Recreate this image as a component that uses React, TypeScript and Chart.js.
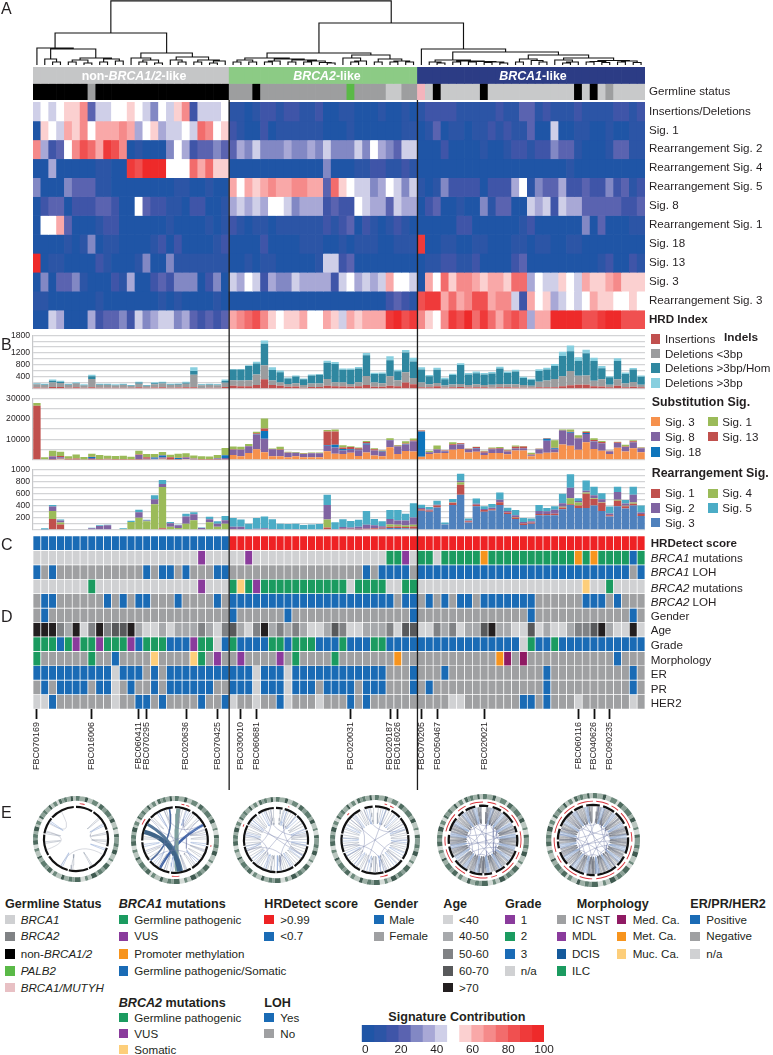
import React, { useEffect, useRef } from "react";
import { Chart, registerables } from "chart.js";
Chart.register(...registerables);

/* ---------- samples ---------- */
const groupSizes = [25, 24, 29];
const labelledSamples: Record<number, string> = {
  0: "FBC070169", 7: "FBC016006", 13: "FBC060411", 14: "FBC070295", 19: "FBC020636", 23: "FBC070425",
  26: "FBC030010", 28: "FBC060681", 40: "FBC020031", 45: "FBC020187", 46: "FBC016026",
  49: "FBC070205", 51: "FBC050467", 57: "FBC020021", 69: "FBC060116", 71: "FBC040626", 73: "FBC090235",
};
const sampleIds = Array.from({ length: 78 }, (_, i) => labelledSamples[i] ?? "");

/* ---------- heat map (level 0..14 of the 15 colour steps) ---------- */
const insDel = [6,7,6,7,8,8,10,3,6,6,7,7,8,7,6,4,7,6,8,10,2,6,6,6,7, 1,1,0,1,2,2,1,2,2,1,1,2,0,0,1,1,0,0,0,1,0,0,1,0, 1,2,2,2,2,1,1,1,1,1,2,1,1,3,3,1,2,1,1,1,2,1,1,1,1,2,2,1,2];
const sig1 = [0,8,7,6,9,8,10,7,9,9,9,10,9,5,7,8,5,6,6,7,6,11,10,7,8, 2,1,0,0,2,0,1,1,1,1,1,1,0,0,0,1,0,0,0,0,0,0,1,1, 0,1,3,0,1,1,0,1,1,2,1,2,1,1,3,0,0,6,0,0,1,1,0,0,1,0,0,1,1];
const rearr2 = [10,5,2,3,7,10,12,11,9,13,12,10,0,1,0,0,0,4,7,5,2,3,3,4,3, 3,5,4,6,4,4,4,5,4,4,5,4,6,4,4,4,6,4,7,5,4,3,6,6, 0,0,0,2,0,0,0,0,1,0,0,1,2,2,1,2,2,4,3,3,1,0,0,0,1,3,3,1,1];
const rearr4 = [0,0,5,0,0,0,0,0,1,1,0,0,13,12,14,14,14,7,7,7,11,9,11,8,8, 0,0,0,0,0,0,0,0,0,0,0,0,4,0,0,0,1,1,2,2,1,1,2,1, 0,0,0,0,0,0,0,0,0,0,0,0,0,0,0,0,0,0,0,1,0,0,0,0,0,0,0,0,0];
const rearr5 = [4,0,0,0,4,3,3,3,1,1,0,0,0,0,0,0,0,0,1,1,0,0,1,0,0, 9,7,9,8,9,10,9,9,10,10,9,9,3,11,8,7,6,6,4,5,7,6,4,6, 1,0,1,4,2,2,2,2,0,2,2,2,5,7,1,4,3,3,5,2,2,3,2,2,4,2,3,1,2];
const sig8 = [0,2,3,3,0,2,2,2,3,3,2,0,0,7,3,2,2,1,1,0,2,2,0,0,1, 5,6,5,6,5,7,7,6,4,5,5,5,2,3,2,2,7,6,5,5,3,6,5,5, 0,2,3,0,0,1,0,0,4,1,3,3,0,0,6,5,6,2,6,5,5,3,3,3,3,3,2,2,3];
const rearr1 = [0,7,7,9,3,0,0,0,1,2,2,0,0,0,0,0,0,1,0,0,0,0,1,0,1, 2,1,0,1,1,0,1,1,1,1,1,1,2,1,2,3,0,2,1,0,1,2,1,0, 0,0,0,0,0,2,2,0,0,0,0,0,0,1,2,0,0,0,0,0,0,4,0,3,0,0,0,1,1];
const sig18 = [0,0,0,0,1,0,1,4,0,1,1,0,0,0,0,1,2,0,2,0,0,0,0,1,2, 0,0,0,0,2,0,0,0,0,1,1,1,0,0,1,0,1,1,1,0,0,1,1,1, 13,0,0,1,1,0,0,1,1,0,0,0,1,1,0,1,1,0,0,1,1,0,0,0,0,0,0,0,0];
const sig13 = [14,0,1,1,0,0,0,0,2,1,0,0,0,1,4,0,0,4,1,1,1,1,1,1,1, 0,0,1,0,1,1,0,0,0,0,0,1,6,6,2,3,0,0,0,0,0,0,0,0, 0,1,1,2,2,1,1,2,0,0,0,0,2,3,0,0,0,0,0,0,0,0,0,1,2,0,0,2,1];
const sig3 = [0,4,0,3,3,4,1,0,0,0,2,1,5,0,0,2,3,2,4,4,4,0,2,4,0, 6,5,7,6,2,5,4,4,6,5,5,5,5,2,6,7,5,6,5,6,9,7,7,6, 0,9,7,11,8,10,10,9,8,9,9,8,11,11,5,7,6,6,8,7,6,9,8,8,9,10,8,8,8];
const rearr3 = [1,1,0,0,0,0,0,0,1,0,0,0,0,0,0,0,1,0,1,0,0,0,0,1,0, 0,0,0,0,0,0,0,0,0,0,0,0,0,0,0,0,0,0,0,0,2,3,2,1, 12,13,13,9,11,9,10,12,12,9,10,10,6,2,9,7,8,5,6,7,6,7,9,8,8,7,7,8,7];
const hrdIndex = [0,0,6,5,0,0,0,5,2,3,3,4,2,6,4,5,6,6,4,5,3,2,3,2,3, 9,10,11,12,10,8,7,8,8,9,7,7,9,8,6,9,8,9,9,9,13,14,12,13, 10,8,7,10,13,12,14,11,13,11,9,11,12,11,5,9,9,14,14,14,14,12,12,13,14,14,12,12,12];
const heatLabels = ["Insertions/Deletions","Sig. 1","Rearrangement Sig. 2","Rearrangement Sig. 4","Rearrangement Sig. 5","Sig. 8","Rearrangement Sig. 1","Sig. 18","Sig. 13","Sig. 3","Rearrangement Sig. 3","HRD Index"];
const heatRows = [insDel,sig1,rearr2,rearr4,rearr5,sig8,rearr1,sig18,sig13,sig3,rearr3,hrdIndex];
const heatPalette = ["#1f55a6","#2c55a6","#3f55a8","#5a63b0","#8288c4","#a8a8d6","#cfcfe8","#ffffff","#fbd0d0","#f9a8a8","#f58a8a","#f26c6c","#f05050","#ef3a3a","#ee2a2a"];

/* ---------- indels ---------- */
const insertions = [45,40,60,60,40,50,40,55,40,40,35,40,35,55,35,45,55,40,45,55,50,30,35,35,60, 106,90,90,127,318,130,100,70,80,40,60,60,106,90,80,70,90,130,70,70,106,90,210,150, 50,55,85,40,55,60,45,50,50,40,50,50,45,35,40,50,50,50,90,120,140,140,90,80,50,100,50,70,55];
const delShort = [110,90,150,135,90,125,70,275,90,90,80,90,60,115,60,110,120,90,95,115,420,90,95,85,145, 180,190,200,350,477,150,110,90,110,90,120,120,220,130,130,90,130,300,140,120,320,200,350,210, 160,95,115,70,90,100,85,105,80,95,110,100,105,90,60,190,230,280,330,480,300,310,180,240,90,220,130,160,80];
const delHom = [15,15,60,40,15,20,15,90,15,15,15,15,15,40,15,35,35,15,20,35,130,15,15,15,60, 362,365,475,370,720,350,350,190,225,195,270,290,547,610,430,480,460,697,290,320,530,300,660,560, 440,270,440,215,320,640,355,370,350,380,520,380,430,240,205,360,370,440,680,660,490,740,660,370,250,610,320,420,270];
const delLong = [20,25,40,35,25,25,25,50,25,25,20,25,20,30,20,30,30,25,20,35,120,25,25,25,45, 20,20,30,64,105,90,55,30,30,25,27,28,70,70,38,38,51,71,40,41,136,46,84,119, 70,46,70,46,43,58,45,58,50,46,62,53,56,38,34,57,60,67,140,192,130,124,109,73,34,98,51,50,40];

/* ---------- substitution signatures ---------- */
const subSig3 = [0,0,100,500,100,100,0,100,100,200,100,100,100,100,200,300,500,100,100,400,200,100,100,100,200, 2400,1700,3300,5200,3700,1800,1800,1300,1700,1200,1300,1300,4200,3000,2900,3400,1900,3600,2100,1800,6100,2900,4300,4000, 1500,2900,3200,3300,4900,5300,3600,3900,2400,3300,3300,2700,4600,4500,1700,3000,3400,3600,7500,6800,4900,8600,5300,4400,2900,5900,4000,5600,3700];
const subSig8 = [0,0,1500,800,200,300,0,800,200,100,200,200,100,2200,300,200,800,200,300,700,300,200,200,500,700, 2500,3200,3300,7000,6500,3300,3000,2200,1700,1700,1900,1900,2700,3000,1600,1500,2800,3800,2400,2000,3400,3500,3200,5000, 0,800,1800,900,2300,2200,1200,1600,1100,1800,2100,1300,800,1100,500,2000,5900,1600,6500,6300,5300,4000,3600,3700,1100,2300,2300,3000,1900];
const subSig18 = [0,0,0,100,0,0,0,500,0,0,0,0,0,0,0,600,800,0,500,0,0,0,0,200,1300, 0,0,0,200,3800,100,0,0,0,0,0,0,300,1300,800,400,200,600,100,300,100,100,200,0, 12300,0,0,100,0,100,100,300,0,0,0,0,100,0,0,100,900,400,200,300,200,500,200,0,100,0,0,0,0];
const subSig13 = [26300,300,300,500,200,200,200,100,100,200,100,100,100,300,700,100,300,900,100,300,100,100,100,100,100, 200,100,100,500,1300,100,200,100,100,100,100,100,6600,6500,700,1000,700,700,500,300,100,400,200,400, 500,100,100,300,400,500,500,500,500,400,400,500,900,900,400,300,300,300,200,300,300,500,500,600,300,400,200,400,300];
const subSig1 = [1400,1000,2500,2000,1300,2000,1200,1500,2000,1500,1500,1600,1200,1800,1700,1700,1400,1300,2000,1800,1500,1400,1200,1400,3500, 1400,1400,1000,800,4800,200,1400,300,300,300,300,300,700,1000,1100,300,400,500,500,300,800,300,1200,1000, 100,600,1900,100,900,100,100,100,400,500,400,400,600,200,800,100,100,3600,400,1000,1300,300,900,500,100,200,800,500,200];

/* ---------- rearrangement signatures ---------- */
const rSig3 = [0,0,0,0,0,0,0,0,0,0,0,0,0,0,0,0,0,0,0,0,0,0,0,0,0, 0,0,0,0,0,0,0,0,0,0,0,0,0,0,0,0,5,0,10,20,30,30,25,20, 315,300,370,85,410,580,120,390,300,320,410,260,180,80,100,240,240,240,340,410,360,360,400,310,220,390,350,400,230];
const rSig1 = [0,0,180,90,0,0,0,0,0,0,0,0,0,0,0,0,25,0,0,0,0,0,0,0,0, 15,10,0,0,0,0,0,0,0,0,0,0,40,0,20,20,15,20,15,15,20,25,20,35, 25,20,30,0,35,165,20,25,25,20,45,25,25,25,20,20,20,25,30,10,40,235,110,135,20,90,40,30,30];
const rSig4 = [0,0,130,30,0,0,0,0,0,0,0,15,130,200,140,420,680,50,30,100,160,0,125,50,100, 0,0,0,0,0,0,0,0,0,0,0,0,130,0,0,0,0,0,0,0,40,30,25,30, 0,0,0,0,5,40,0,0,0,0,0,0,5,0,0,0,0,0,10,100,50,20,10,10,0,15,5,20,0];
const rSig2 = [0,5,75,35,0,0,0,25,65,75,0,0,0,90,15,85,50,60,45,120,95,30,50,50,60, 35,40,15,20,25,15,15,10,15,10,10,10,240,15,25,20,30,65,50,25,90,70,85,120, 20,15,15,5,5,25,15,15,20,25,40,25,30,25,20,50,45,65,60,175,25,30,50,50,30,130,40,130,25];
const rSig5 = [0,20,25,15,0,0,0,10,10,10,0,10,20,40,10,65,65,20,10,45,35,10,40,40,70, 145,120,85,175,195,160,85,85,85,70,80,85,170,110,130,105,115,225,105,80,145,170,110,235, 55,40,65,30,55,115,30,85,45,60,120,55,85,65,45,100,55,60,155,220,45,170,140,100,115,85,55,130,115];

/* ---------- annotation tracks ---------- */
const codes = (s: string) => s.replace(/ /g, "").split("");
const germline = codes("kkkkk kkdkk kkkkk kkkkk kkkkk dddkd ddddd ddddd sdddd aadd takaa aaaka aaaaa aaaaa kakad aaaa");
const hrdetect = codes("bbbbb bbbbb bbbbb bbbbb bbbbb rrrrr rrrrr rrrrr rrrrr rrrr rrrrr rrrrr rrrrr rrrrr rrrrr rrrr");
const brca1Mut = codes("lllll lllll lllll lllll lplll llpll lllll lllll lllll GGpl GGlGG GGGoG GGGGG GGGGG oGoGG GGbG");
const brca1Loh = codes("bgbgg ggggg ggggb gbbgb gggbb ggggg ggggg ggggg ggbgb bbbg bbbbb bbbbb bbbbb bbbbb bbbbb bbgb");
const brca2Mut = codes("lllll llGll lllll lllll lplll GyGpG GGGGG GGGGG lGGGG llGG lllll lllll lllll lllll lyllG llll");
const brca2Loh = codes("gbbgg ggggb gbgbb gggbg gggbg bbbbb bbbbb bbbbb bbbbb bgbb gbgbg bbgbb bbbbb ggggg gbbbg bggg");
const gender = codes("gbggg ggggg ggggg ggggg ggggg bgggg ggbgg ggggg ggggg gggb ggggg ggggg ggggb ggggg ggggg ggbg");
const age = codes("44421 40242 33410 01011 12102 31024 12121 00132 00111 2033 00212 01134 11003 01001 22341 0040");
const grade = codes("GGGbG pGGpG GGpbG GGbbb pGGlb Gbbbb GGbGG GbbbG bbbGG bbbb bbbbb bbbbb bbblG bbGbb bbbbb bbbb");
const morphology = codes("Ggggg ggGgg bgggg ygggg yGgpg gpggg gpgGg gggGg ggggg gogg ggggg ggggg omgmg ggggg ggggg bggg");
const er = codes("bbbbb bbbbb lbbbg bgbbb bbbbb bbblb bblbb bbbbb bbbbb gggb gggbg ggggg ggggg gbggg ggggg ggbg");
const pr = codes("gbgbb bbgbb lgbgg bgbbb bbbgg bbblb bblbb bgbbb bgbbb gggb gbggg ggggg ggggg gbggg ggggg ggbg");
const her2 = codes("llbgg ggggg lggbb gbggg gbggb lgglg gblgg glggg bgbgg gggg ggggl lgggg gggbb gbggg lgggg gglg");
const annotationRows = [hrdetect,brca1Mut,brca1Loh,brca2Mut,brca2Loh,gender,age,grade,morphology,er,pr,her2];
const trackColors: Record<string,string> = {
  b:"#1a6bb5", g:"#9fa0a2", l:"#d0d1d3", G:"#1b9b60", p:"#8a3b9c", o:"#f7941d", y:"#fdce7a", m:"#8f1a63", r:"#ee2224",
  "0":"#d2d3d5","1":"#a7a9ac","2":"#808285","3":"#58595b","4":"#231f20",
  k:"#000000", d:"#9d9e9f", a:"#c8c9ca", s:"#5ab947", t:"#f4b4bc",
};
const groupColors = ["#c5c6c7","#8ccb85","#2c3c85"];

/* ---------- dendrogram: [height, left, right], 0 is a leaf, leaves taken in sample order ---------- */
type Node = 0 | [number, Node, Node];
const nonBrcaTree: Node = [32,
  [17, 0, [16, [6,0,[3,0,0]], [7,[5,[3,0,0],[2,0,0]],[6,[3,0,0],[4,0,0]]]]],
  [12, [7,0,[5,[3,0,0],[2,0,0]]], [8,[5,0,[3,0,0]],[5,[3,0,0],[4,[2,0,0],0]]]]];
const brca2Tree: Node = [12,
  [7, [5,[3,0,0],[3,0,0]], [6,[4,[3,0,0],0],[5,[3,0,0],[4,[3,0,0],[2.5,0,[2,0,0]]]]]],
  [10, [7,0,[4,[3,0,0],0]], [6,[3,0,0],[4,[3,0,0],[3,0,0]]]]];
const brca1Tree: Node = [16, 0, [13,
  [5,[3,0,[2,0,0]],[4,[3,0,0],[3.5,[3,0,0],[3,[2.5,0,0],[2,0,0]]]]],
  [10,[6,[3,0,0],[4.5,0,[3,0,0]]],[7,[5,0,[3,[2,0,0],0]],[4.5,[3.5,[3,0,0],[2.5,0,0]],[4,[3,0,0],[2.5,0,0]]]]]]];
const rootTree: Node = [65, nonBrcaTree, [42, brca2Tree, brca1Tree]];

/* ---------- circos panels: angles in degrees clockwise from the top ---------- */
const ideogramBands = [5,7,4,6,8,3,6,5,9,4,5,7,3,6,4,8,5,4,6,7,3,5,8,4,6,3,7,5,4,6,8,3,5,6,4,7,5,3,6,4,8,5,3,7,4,5,6,3,5,4,6,3,5,4,3,5,4,6,3,4,5,3,4,3,4,5,3,4];
const ideogramColors = ["#5f7d70","#9db0a6","#3f5a50","#b9c6bf","#6e8a7d","#d5dcd8","#4d6a5e","#8aa096"];
/* arcs: on, off, on, off ... */
const blackRings = [
  [30,3,40,2,28,3,50,2,35,2,42,3,38,2,30,2,44,4],
  [28,4,36,2,30,2,48,3,36,3,40,3,34,3,42,2,44,4],
  [12,4,24,2,30,2,26,3,44,3,32,2,46,2,30,2,38,2,24,4,30,4],
  [26,3,18,2,30,2,42,3,36,2,38,3,40,2,30,2,52,8,14,4],
  [8,7,14,4,22,6,10,4,18,7,26,4,16,6,12,3,20,4,24,6,18,4,14,6,22,5,10,4,16,6,6],
  [10,5,18,3,20,4,14,3,24,5,16,3,30,4,12,4,24,5,20,6,10,3,16,4,28,3,14,5,10],
];
/* arcs: off, on, off, on ... */
const redRings = [
  [6,8,346],
  [10,5,3,5,75,3,72,12,110,10,55],
  [20,2,270,4,64],
  [15,4,5,6,130,12,140,4,44],
  [6,12,5,14,6,18,7,22,6,10,6,20,8,8,5,24,7,16,6,20,5,12,7,26,6,12,6,18],
  [4,16,4,10,5,22,5,12,5,18,4,14,5,24,5,16,4,20,5,10,5,18,6,22,5,16,4,20],
];
const circosSpokes = [
  [47,62,78,92,108,148,186,206,262,280,302],
  [10,22,34,46,60,72,84,97,108,120,131,143,158,184,196,208,220,232,243,258,272,312,326,340],
  [9,16,24,34,41,52,58,69,77,84,95,102,113,121,128,139,147,156,165,172,184,191,199,210,218,227,233,244,253,259,270,278,286,297,305,314,321,332,341,350],
  [6,15,21,32,39,47,56,66,72,81,90,98,107,114,124,131,138,149,158,164,175,183,190,201,209,216,226,235,241,250,259,268,274,285,293,300,310,317,327,335,344,352],
  [6,13,19,27,35,42,48,57,64,70,79,86,93,101,108,114,123,130,137,144,152,158,167,174,181,188,196,203,211,218,224,233,240,247,255,262,269,276,284,291,298,306,313,320,328,335,342,350],
  [7,14,21,28,36,44,50,58,66,73,80,87,94,102,110,116,124,131,139,146,153,160,168,175,182,190,198,204,212,219,226,234,241,248,256,264,270,278,285,292,299,307,315,322,329,337,345,352],
];
const spokeWidths = [3, 4, 5, 5, 7, 7];
const circosChords = [
  [[120,210],[250,285],[300,332],[60,100]],
  [[30,200],[70,250],[110,300],[160,330],[50,140],[215,310],[130,230],[20,80],[340,60]],
  [[40,220],[120,310],[300,100],[70,170],[200,280],[340,80],[150,250],[20,120],[250,350]],
  [[60,240],[130,310],[200,20],[90,170],[220,320],[340,70],[160,260]],
  [[30,130],[70,200],[110,230],[150,290],[190,330],[240,20],[280,60],[320,90],[10,170],[50,150],[100,260],[140,340],[210,300],[250,80],[15,75],[85,145],[155,215],[225,285],[295,355],[45,105],[120,180],[195,255],[265,325],[335,35]],
  [[20,120],[60,190],[100,220],[140,280],[180,320],[230,10],[270,50],[310,80],[350,160],[40,140],[90,250],[130,330],[200,290],[240,70],[10,70],[80,140],[150,210],[220,280],[290,350],[35,95],[110,170],[185,245],[255,315],[325,25]],
];
const circosRibbons = [[], [[285,172,4.5,"#3f6488"],[300,168,3,"#56799a"],[6,176,4,"#7fa09e"],[62,208,2.5,"#3f63a8"],[350,230,1.6,"#4a6aa0"]], [], [], [], []];
const circosBoxes = [[76,839,43],[175,840,44],[276,840,43],[375,840,45],[483,840,46],[593,840,47]];

/* ---------- legends ---------- */
const colorbarSteps = [-2,4.8,11.6,18.4,25.2,32,38.8,45.6,52.4,59.2,66,72.8,79.6,86.4,93.2,100];
const colorbarTicks = [0,20,40,60,80,100];
const barLegends: [string,string,number,number][] = [
  ["Insertions","#c1504f",650.7,339],["Deletions <3bp","#9b9c9e",650.7,353.5],["Deletions >3bp/Hom","#2f87a0",650.7,368],["Deletions >3bp","#88cfdf",650.7,383],
  ["Sig. 3","#f6914d",650.7,421.7],["Sig. 1","#9bbb59",708,421.7],["Sig. 8","#8064a2",650.7,436.7],["Sig. 13","#c0504d",708,436.7],["Sig. 18","#0f75bc",650.7,452],
  ["Sig. 1","#c0504d",650.7,493.3],["Sig. 4","#9bbb59",708,493.3],["Sig. 2","#8064a2",650.7,508],["Sig. 5","#4bacc6",708,508],["Sig. 3","#4f81bd",650.7,522.7],
];
const annotationLabels = ["**HRDetect score**","*BRCA1* mutations","*BRCA1* LOH","*BRCA2* mutations","*BRCA2* LOH","Gender","Age","Grade","Morphology","ER","PR","HER2"];
const annotationLabelY = [543,558,572,587.5,602,616,630,645,659.5,674,688.5,703];
const legendRows = [919.7,936.3,954,971,987.7];
const lowerRows = [1017.5,1033.7,1049.7];
type LegendBlock = { title: string; tx: number; ty: number; sx: number; lx: number; ys: number[]; items: [string,string][] };
const bottomLegends: LegendBlock[] = [
  { title:"Germline Status", tx:5, ty:904, sx:5, lx:20.7, ys:legendRows, items:[["*BRCA1*","#cfd0d2"],["*BRCA2*","#808285"],["non-*BRCA1/2*","#000000"],["*PALB2*","#5ab947"],["*BRCA1/MUTYH*","#e8c0c4"]] },
  { title:"*BRCA1* mutations", tx:118.7, ty:904, sx:118.7, lx:134.3, ys:legendRows, items:[["Germline pathogenic","#1b9b60"],["VUS","#8a3b9c"],["Promoter methylation","#f7941d"],["Germline pathogenic/Somatic","#1a6bb5"]] },
  { title:"*BRCA2* mutations", tx:118.7, ty:1003, sx:118.7, lx:134.3, ys:lowerRows, items:[["Germline pathogenic","#1b9b60"],["VUS","#8a3b9c"],["Somatic","#fdce7a"]] },
  { title:"HRDetect score", tx:264.3, ty:904, sx:264.3, lx:280.3, ys:legendRows, items:[[">0.99","#ee2224"],["<0.7","#1a6bb5"]] },
  { title:"LOH", tx:264.3, ty:1003, sx:264.3, lx:280.3, ys:lowerRows, items:[["Yes","#1a6bb5"],["No","#9fa0a2"]] },
  { title:"Gender", tx:374, ty:904, sx:374, lx:389.3, ys:legendRows, items:[["Male","#1a6bb5"],["Female","#9fa0a2"]] },
  { title:"Age", tx:443.3, ty:904, sx:443.3, lx:459, ys:legendRows, items:[["<40","#d2d3d5"],["40-50","#a7a9ac"],["50-60","#808285"],["60-70","#58595b"],[">70","#231f20"]] },
  { title:"Grade", tx:505, ty:904, sx:505, lx:520.7, ys:legendRows, items:[["1","#8a3b9c"],["2","#1b9b60"],["3","#1a6bb5"],["n/a","#d0d1d3"]] },
  { title:"Morphology", tx:576.7, ty:904, sx:556.7, lx:572, ys:legendRows, items:[["IC NST","#9fa0a2"],["MDL","#8a3b9c"],["DCIS","#155a9c"],["ILC","#1b9b60"]] },
  { title:"", tx:0, ty:904, sx:616.7, lx:632.7, ys:legendRows, items:[["Med. Ca.","#8f1a63"],["Met. Ca.","#f7941d"],["Muc. Ca.","#fdce7a"]] },
  { title:"ER/PR/HER2", tx:690.3, ty:904, sx:690.3, lx:706.3, ys:legendRows, items:[["Positive","#1a6bb5"],["Negative","#9fa0a2"],["n/a","#d0d1d3"]] },
];

/* ---------- helpers ---------- */
const FONT = "'Liberation Sans', Arial, sans-serif";
const TEXT = "#231f20";
Chart.defaults.font.family = FONT;
Chart.defaults.color = TEXT;
const base = { responsive:false, animation:false as const, events:[] as any[], plugins:{ legend:{display:false}, tooltip:{enabled:false} } };

function ChartBox({ make, left, top, width, height, z = 1, blur = 0 }: any) {
  const ref = useRef<HTMLCanvasElement>(null);
  useEffect(() => {
    const c = new Chart(ref.current!, make());
    return () => c.destroy();
  }, []);
  return <canvas ref={ref} width={width} height={height} style={{ position:"absolute", left, top, width, height, zIndex:z, pointerEvents:"none", filter: blur ? `blur(${blur}px)` : undefined }} />;
}

function rich(s: string) {
  return s.split(/(\*\*[^*]+\*\*|\*[^*]+\*)/).filter(Boolean).map((p, i) =>
    p.startsWith("**") ? <b key={i}>{p.slice(2,-2)}</b> : p.startsWith("*") ? <i key={i}>{p.slice(1,-1)}</i> : <span key={i}>{p}</span>);
}
function Txt({ x, y, size = 11.6, bold = false, color = TEXT, center = false, children }: any) {
  return <div style={{ position:"absolute", left:x, top:y, transform: center ? "translate(-50%,-50%)" : "translateY(-50%)", fontFamily:FONT, fontSize:size, fontWeight:bold?700:400, color, whiteSpace:"nowrap", lineHeight:1, zIndex:3 }}>{children}</div>;
}
function Swatch({ x, y, color }: any) {
  return <div style={{ position:"absolute", left:x, top:y-4.7, width:9.5, height:9.4, background:color }} />;
}

const xCells = (extra: any = {}) => ({ type:"category", stacked:true, display:false, grid:{display:false}, ...extra });

function cellDatasets(rows: string[][] | number[][], color: (v:any, i:number)=>string, border = 0) {
  return (rows as any[][]).map(r => ({
    data: r.map(() => 1),
    backgroundColor: r.map((v, i) => color(v, i)),
    borderWidth: border, borderColor:"#ffffff", borderSkipped:false,
    barPercentage:1, categoryPercentage:1,
  }));
}

function rightAxis(labels: string[], boldLast = false) {
  return {
    position:"right", min:0, max:labels.length, reverse:true, stacked:true,
    grid:{display:false, drawTicks:false}, border:{display:false},
    afterFit:(s:any)=>{ s.width = 128; s.paddingTop = 0; s.paddingBottom = 0; },
    afterBuildTicks:(s:any)=>{ s.ticks = labels.map((_,i)=>({ value:i+0.5 })); },
    ticks:{ autoSkip:false, padding:4, color:TEXT,
      font:(c:any)=>({ size:11.6, family:FONT, weight: boldLast && c.index===labels.length-1 ? "bold":"normal" }),
      callback:(v:number)=>labels[Math.floor(v)] },
  };
}

const heatConfig = () => ({
  type:"bar",
  data:{ labels:sampleIds, datasets:cellDatasets(heatRows, v => heatPalette[v]) },
  options:{ ...base, layout:{padding:{left:33,right:0,top:0,bottom:0}}, scales:{ x:xCells(), y:rightAxis(heatLabels,true) } },
});

const groupOf = (i:number) => i < groupSizes[0] ? 0 : i < groupSizes[0]+groupSizes[1] ? 1 : 2;
const headerConfig = () => ({
  type:"bar",
  data:{ labels:sampleIds, datasets:[
    ...cellDatasets([sampleIds], (_,i)=>groupColors[groupOf(i)]),
    ...cellDatasets([germline], v=>trackColors[v]),
  ]},
  options:{ ...base, layout:{padding:{left:33,right:0,top:0,bottom:0}}, scales:{ x:xCells(), y:rightAxis(["","Germline status"]) } },
});

const annotationConfig = () => ({
  type:"bar",
  data:{ labels:sampleIds, datasets:cellDatasets(annotationRows, v=>trackColors[v], 0.7) },
  options:{ ...base, layout:{padding:{left:33,right:128,top:0,bottom:0}}, scales:{
    x:{ type:"category", stacked:true,
      grid:{ offset:false, drawOnChartArea:false, drawTicks:true, tickLength:10, tickColor:"#111", tickWidth:1.8, color:"rgba(0,0,0,0)" },
      border:{display:false},
      afterFit:(s:any)=>{ s.height = 66; },
      afterBuildTicks:(s:any)=>{ s.ticks = s.ticks.filter((t:any)=>sampleIds[t.value]); },
      ticks:{ autoSkip:false, minRotation:90, maxRotation:90, padding:3, font:{size:9}, color:TEXT } },
    y:{ display:false, min:0, max:12, reverse:true, stacked:true },
  } },
});

function stackedConfig(series:[number[],string][], max:number, step:number, shown:number[]) {
  return () => ({
    type:"bar",
    data:{ labels:sampleIds, datasets:series.map(([d,c])=>({ data:d, backgroundColor:c, barPercentage:0.94, categoryPercentage:1, borderWidth:0 })) },
    options:{ ...base, layout:{padding:{left:0,right:128,top:6,bottom:6}}, scales:{
      x:{ stacked:true, display:false, grid:{display:false} },
      y:{ stacked:true, min:0, max, position:"left",
        afterFit:(s:any)=>{ s.width = 33; },
        grid:{ color:"#d3d4d6", lineWidth:1.2, drawTicks:false },
        border:{ color:"#c6c7c9", width:1.2 },
        ticks:{ stepSize:step, autoSkip:false, padding:3, color:TEXT, font:{size:8.6},
          callback:(v:number)=> shown.includes(v) ? String(v) : "" } },
    } },
  });
}

function walk(node: Node, st:{n:number}, out:any[]): {x:number;y:number} {
  if (node === 0) { const x = st.n + 0.5; st.n += 1; return { x, y:65 }; }
  const [h,a,b] = node;
  const l = walk(a, st, out), r = walk(b, st, out);
  const y = Math.max(65 - h, 0.8);
  out.push({x:l.x,y:l.y},{x:l.x,y},{x:r.x,y},{x:r.x,y:r.y},{x:NaN,y:NaN});
  return { x:(l.x+r.x)/2, y };
}
const overlayConfig = () => {
  const seg:any[] = [];
  walk(rootTree,{n:0},seg);
  return {
    type:"scatter",
    data:{ datasets:[
      { data:seg, showLine:true, spanGaps:false, pointRadius:0, borderColor:"#111", borderWidth:1.15, clip:false },
      { data:[{x:groupSizes[0],y:100},{x:groupSizes[0],y:790},{x:NaN,y:NaN},{x:groupSizes[0]+groupSizes[1],y:100},{x:groupSizes[0]+groupSizes[1],y:790}], showLine:true, spanGaps:false, pointRadius:0, borderColor:"#1c1c1c", borderWidth:1.3 },
    ]},
    options:{ ...base, layout:{padding:{left:33,right:128,top:0,bottom:0}}, scales:{
      x:{ type:"linear", min:0, max:78, display:false },
      y:{ type:"linear", min:0, max:800, reverse:true, display:false },
    } },
  };
};

const ringSet = (data:number[], colors:string[], weight:number) => ({ data, backgroundColor:data.map((_,i)=>colors[i%colors.length]), borderWidth:0, weight });
const ringConfig = (p:number) => () => ({
  type:"doughnut",
  data:{ datasets:[
    ringSet(ideogramBands, ideogramColors, 11),
    ringSet([1], ["rgba(0,0,0,0)"], 5),
    ringSet(redRings[p], ["rgba(0,0,0,0)","#d8323a"], 2),
    ringSet([1], ["rgba(0,0,0,0)"], 4.5),
    ringSet(blackRings[p], ["#111111","rgba(0,0,0,0)"], 5),
  ]},
  options:{ ...base, cutout:"72%", layout:{padding:0} },
});
function bez(a:number,b:number,r=0.72){
  const ax=r*Math.sin(a*Math.PI/180), ay=r*Math.cos(a*Math.PI/180), bx=r*Math.sin(b*Math.PI/180), by=r*Math.cos(b*Math.PI/180);
  const pts:any[]=[];
  for(let k=0;k<=12;k++){ const t=k/12; const u=(1-t)*(1-t), v=t*t; pts.push({x:u*ax+v*bx,y:u*ay+v*by}); }
  pts.push({x:NaN,y:NaN});
  return pts;
}
const chordSet = (pts:any[], color:string, w:number) => ({ data:pts, showLine:true, spanGaps:false, pointRadius:0, borderColor:color, borderWidth:w });
const chordConfig = (p:number) => () => {
  const sp = circosSpokes[p], w = spokeWidths[p];
  const dark = p >= 4;
  const fan = (a:number) => dark ? [...bez(a,a+w),...bez(a+1.5,a+w-1.5),...bez(a+2.5,a+w-2.5)] : bez(a,a+w);
  const grey = sp.filter((_,i)=>i%3!==1).flatMap(fan);
  const blue = sp.filter((_,i)=>i%3===1).flatMap(fan);
  const long = circosChords[p].flatMap(([a,b])=>bez(a,b));
  return {
    type:"scatter",
    data:{ datasets:[
      chordSet(grey, dark ? "rgba(115,120,130,0.6)" : "rgba(140,150,165,0.6)", 0.7),
      chordSet(blue, dark ? "rgba(150,175,210,0.7)" : "rgba(150,175,215,0.7)", 0.8),
      chordSet(long, p===0 ? "rgba(160,165,180,0.75)" : "rgba(110,120,165,0.7)", 0.55),
      ...(circosRibbons[p] as any[]).map(([a,b,lw,c])=>chordSet(bez(a,b),c,lw)),
    ]},
    options:{ ...base, layout:{padding:0}, scales:{
      x:{ type:"linear", min:-1, max:1, display:false },
      y:{ type:"linear", min:-1, max:1, display:false },
    } },
  };
};

const colorbarConfig = () => ({
  type:"bar",
  data:{ labels:["Contribution"], datasets:heatPalette.map((c,i)=>({
    data:[[colorbarSteps[i],colorbarSteps[i+1]]], backgroundColor:c, barPercentage:1, categoryPercentage:1, borderWidth:0, borderSkipped:false })) },
  options:{ ...base, indexAxis:"y", layout:{padding:{left:21.7,right:26,top:0,bottom:0}}, scales:{
    x:{ type:"linear", min:-2, max:100, grid:{display:false,drawTicks:false}, border:{display:false},
      afterFit:(s:any)=>{ s.height = 13; },
      afterBuildTicks:(s:any)=>{ s.ticks = colorbarTicks.map(v=>({value:v})); },
      ticks:{ autoSkip:false, padding:1, maxRotation:0, color:TEXT, font:{size:11.8} } },
    y:{ display:false, stacked:true },
  } },
});

const indelConfig = stackedConfig([[insertions,"#c1504f"],[delShort,"#9b9c9e"],[delHom,"#2f87a0"],[delLong,"#88cfdf"]],1800,200,[400,800,1200,1800]);
const subConfig = stackedConfig([[subSig3,"#f6914d"],[subSig8,"#8064a2"],[subSig18,"#0f75bc"],[subSig13,"#c0504d"],[subSig1,"#9bbb59"]],30000,5000,[10000,20000,30000]);
const rearrConfig = stackedConfig([[rSig3,"#4f81bd"],[rSig1,"#c0504d"],[rSig4,"#9bbb59"],[rSig2,"#8064a2"],[rSig5,"#4bacc6"]],1000,100,[200,400,600,800,1000]);

export default function App() {
  return (
    <div style={{ position:"absolute", left:0, top:0, width:773, height:1055, overflow:"hidden", background:"#fff" }}>
      <ChartBox make={headerConfig} left={0} top={67} width={773} height={33} />
      <ChartBox make={heatConfig} left={0} top={102} width={773} height={227} />
      <ChartBox make={indelConfig} left={0} top={327} width={773} height={70} />
      <ChartBox make={subConfig} left={0} top={390} width={773} height={78} />
      <ChartBox make={rearrConfig} left={0} top={461} width={773} height={77} />
      <ChartBox make={annotationConfig} left={0} top={536} width={773} height={239} />
      {circosBoxes.map(([cx,cy,r],p)=>(
        <React.Fragment key={p}>
          <ChartBox make={ringConfig(p)} left={cx-r} top={cy-r} width={2*r} height={2*r} blur={0.35} />
          <ChartBox make={chordConfig(p)} left={cx-r} top={cy-r} width={2*r} height={2*r} z={2} blur={0.25} />
        </React.Fragment>
      ))}
      <ChartBox make={colorbarConfig} left={340} top={1025} width={230} height={30} />
      <ChartBox make={overlayConfig} left={0} top={0} width={773} height={800} z={2} />

      <Txt x={1} y={9} size={16}>A</Txt>
      <Txt x={1} y={345} size={16}>B</Txt>
      <Txt x={1} y={545} size={16}>C</Txt>
      <Txt x={1} y={617} size={16}>D</Txt>
      <Txt x={1} y={813} size={16}>E</Txt>

      <Txt x={134} y={76} size={12.4} bold color="#ffffff" center>{rich("non-*BRCA1/2*-like")}</Txt>
      <Txt x={327} y={76} size={12.4} bold color="#ffffff" center>{rich("*BRCA2*-like")}</Txt>
      <Txt x={533} y={76} size={12.4} bold color="#ffffff" center>{rich("*BRCA1*-like")}</Txt>

      <Txt x={724} y={338} size={11.8} bold>Indels</Txt>
      <Txt x={651.7} y={402} size={12.4} bold>Substitution Sig.</Txt>
      <Txt x={651.7} y={472.7} size={12.4} bold>Rearrangement Sig.</Txt>
      {barLegends.map(([t,c,x,y],i)=>(
        <React.Fragment key={i}><Swatch x={x} y={y} color={c} /><Txt x={x+14.3} y={y}>{t}</Txt></React.Fragment>
      ))}
      {annotationLabels.map((t,i)=><Txt key={i} x={650.7} y={annotationLabelY[i]}>{rich(t)}</Txt>)}

      {bottomLegends.map((b,i)=>(
        <React.Fragment key={i}>
          {b.title && <Txt x={b.tx} y={b.ty} size={12.6} bold>{rich(b.title)}</Txt>}
          {b.items.map(([t,c],j)=>(
            <React.Fragment key={j}><Swatch x={b.sx} y={b.ys[j]} color={c} /><Txt x={b.lx} y={b.ys[j]}>{rich(t)}</Txt></React.Fragment>
          ))}
        </React.Fragment>
      ))}
      <Txt x={388.3} y={1016.5} size={12.6} bold>Signature Contribution</Txt>
    </div>
  );
}
